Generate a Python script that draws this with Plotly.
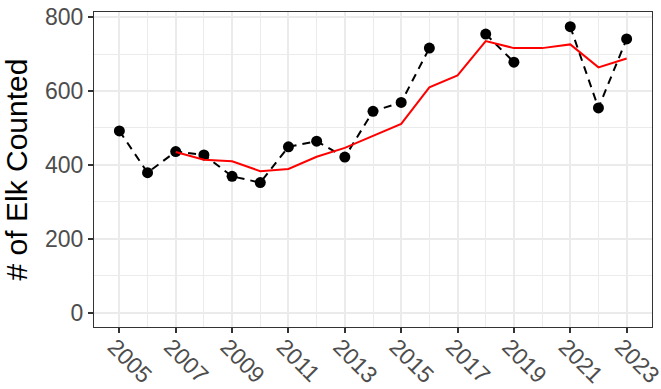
import plotly.graph_objects as go

# Annual elk survey counts (None = no survey that year)
years = list(range(2005, 2024))
elk_counts = [492, 379, 436, 427, 369, 352, 449, 464, 421, 545, 569, 716, None,
              754, 678, None, 774, 554, 741]
# Three-year running mean of the counts
running_mean = [None, None, 435, 414, 410, 383, 389, 422, 446, 479, 511, 610, 642,
                735, 716, 716, 726, 664, 688]

x_ticks = list(range(2005, 2024, 2))
y_ticks = [0, 200, 400, 600, 800]

FONT = "Liberation Sans, Arial, sans-serif"
GRID = "#EBEBEB"
INK = "#333333"

fig = go.Figure()

fig.add_trace(go.Scatter(
    x=years, y=elk_counts, mode="lines+markers",
    line=dict(color="black", width=2, dash="8px,6px"),
    marker=dict(color="black", size=11),
    connectgaps=False, showlegend=False, cliponaxis=False,
))

fig.add_trace(go.Scatter(
    x=years, y=running_mean, mode="lines",
    line=dict(color="#FF0000", width=2),
    connectgaps=False, showlegend=False,
))

axis_common = dict(
    showline=True, mirror=True, linecolor=INK, linewidth=1.3,
    ticks="outside", ticklen=5, tickwidth=1.5, tickcolor=INK,
    showgrid=True, gridcolor=GRID, gridwidth=1.5, zeroline=False,
    automargin=False, ticklabeloverflow="allow",
    tickfont=dict(family=FONT, size=23, color="#4D4D4D"),
)

fig.update_xaxes(
    range=[2004.1, 2023.9], tickmode="array", tickvals=x_ticks,
    ticktext=[str(v) for v in x_ticks], tickangle=45,
    ticklabelstandoff=-9, ticklabelshift=-5,
    minor=dict(showgrid=True, gridcolor=GRID, gridwidth=0.8, dtick=1, tick0=2005),
    **axis_common,
)
fig.update_yaxes(
    range=[-38.75, 813.75], tickmode="array", tickvals=y_ticks,
    ticktext=[str(v) for v in y_ticks],
    minor=dict(showgrid=True, gridcolor=GRID, gridwidth=0.8, dtick=100, tick0=0),
    title=dict(text="# of Elk Counted", font=dict(family=FONT, size=30, color="black"),
               standoff=10),
    **axis_common,
)

fig.update_layout(
    width=661, height=389,
    margin=dict(l=94, r=9, t=12, b=62),
    paper_bgcolor="white", plot_bgcolor="white",
    font=dict(family=FONT),
)

fig.write_html("out.html")
